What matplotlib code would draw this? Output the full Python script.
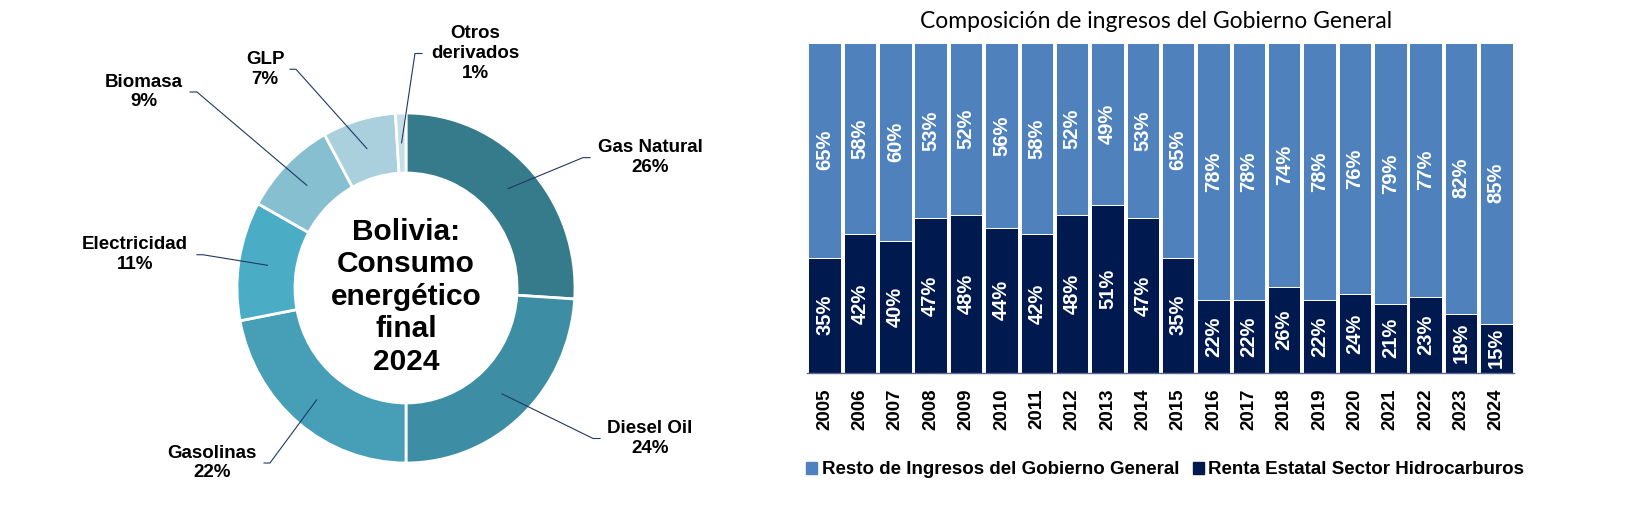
import numpy as np
import matplotlib
matplotlib.use('Agg')
import matplotlib.pyplot as plt
from matplotlib.patches import Patch

plt.rcParams['font.family'] = ['Liberation Sans', 'DejaVu Sans']

# --- donut: consumo energetico final 2024 ---
fuentes = ['Gas Natural', 'Diesel Oil', 'Gasolinas', 'Electricidad', 'Biomasa', 'GLP', 'Otros\nderivados']
participacion = [26, 24, 22, 11, 9, 7, 1]
colores_dona = ['#367B8C', '#3D8DA4', '#479EB7', '#4BACC6', '#86BFD0', '#A9D0DC', '#C6DFE7']

# --- barras: composicion de ingresos ---
anios = ['2005', '2006', '2007', '2008', '2009', '2010', '2011', '2012', '2013', '2014',
         '2015', '2016', '2017', '2018', '2019', '2020', '2021', '2022', '2023', '2024']
renta_hidrocarburos = [35, 42, 40, 47, 48, 44, 42, 48, 51, 47, 35, 22, 22, 26, 22, 24, 21, 23, 18, 15]
resto_ingresos = [65, 58, 60, 53, 52, 56, 58, 52, 49, 53, 65, 78, 78, 74, 78, 76, 79, 77, 82, 85]

# label layout (pie axes units): elbow x, end x, text x, y
pos_etiquetas = [(1.047, 1.089, 1.444, 0.745),
                 (1.107, 1.148, 1.444, -0.86),
                 (-0.805, -0.840, -1.148, -1.0),
                 (-1.201, -1.237, -1.604, 0.19),
                 (-1.237, -1.278, -1.550, 1.12),
                 (-0.651, -0.686, -0.834, 1.25),
                 (0.053, 0.095, 0.408, 1.34)]

W, H = 1632, 505
fig = plt.figure(figsize=(W / 100, H / 100), dpi=100)

# donut
ax = fig.add_axes([237 / W, 42 / H, 338 / W, 350 / H])
wedges, _ = ax.pie(participacion, colors=colores_dona, startangle=90, counterclock=False,
                   radius=1, wedgeprops=dict(width=0.343, edgecolor='white', linewidth=2))
ax.set_aspect('auto')
ax.set_xlim(-1, 1)
ax.set_ylim(-1, 1)

for w, nombre, val, (xe, xf, xt, yt) in zip(wedges, fuentes, participacion, pos_etiquetas):
    ang = np.deg2rad((w.theta1 + w.theta2) / 2)
    xa, ya = 0.83 * np.cos(ang), 0.83 * np.sin(ang)
    ax.plot([xa, xe, xf], [ya, yt, yt], color='#1F3864', lw=0.8, clip_on=False)
    ax.text(xt, yt, f'{nombre}\n{val}%', ha='center', va='center', fontsize=13.5,
            fontweight='bold', linespacing=1.2)

ax.text(0, -0.05, 'Bolivia:\nConsumo\nenergético\nfinal\n2024', ha='center', va='center',
        fontsize=21.5, fontweight='bold', linespacing=1.2)

# stacked bars
ax2 = fig.add_axes([807 / W, 132 / H, 707 / W, 330 / H])
x = np.arange(len(anios))
c_oscuro = '#001A4F'
c_claro = '#4F81BD'
ax2.bar(x, renta_hidrocarburos, width=0.92, color=c_oscuro, edgecolor='white', linewidth=0.7)
ax2.bar(x, resto_ingresos, bottom=renta_hidrocarburos, width=0.92, color=c_claro,
        edgecolor='white', linewidth=0.7)
ax2.set_xlim(-0.5, len(anios) - 0.5)
ax2.set_ylim(0, 100)

etiq = dict(rotation=90, ha='center', va='center', color='white', fontsize=14.5,
            fontweight='bold', family=['Liberation Sans', 'DejaVu Sans'])
for i in range(len(anios)):
    r = renta_hidrocarburos[i]
    s = resto_ingresos[i]
    ax2.text(i, r / 2, f'{r}%', **etiq)
    ax2.text(i, r + s / 2, f'{s}%', **etiq)

for sp in ['top', 'right', 'left']:
    ax2.spines[sp].set_visible(False)
ax2.spines['bottom'].set_color('#5A6B8C')
ax2.spines['bottom'].set_linewidth(1)
ax2.set_yticks([])
ax2.set_xticks(x, anios, rotation=90, fontsize=13.5, fontweight='bold')
ax2.tick_params(axis='x', length=0, pad=11)

fig.text(1156 / W, 1 - 22 / H, 'Composición de ingresos del Gobierno General', ha='center',
         va='center', fontsize=16.5, family=['Lato', 'DejaVu Sans'])

handles = [Patch(color=c_claro, label='Resto de Ingresos del Gobierno General'),
           Patch(color=c_oscuro, label='Renta Estatal Sector Hidrocarburos')]
fig.legend(handles=handles, loc='center left', bbox_to_anchor=(806 / W, 1 - 470 / H), ncol=2,
           frameon=False, handlelength=0.6, handleheight=0.6, handletextpad=0.25,
           columnspacing=0.7, borderpad=0, borderaxespad=0,
           prop=dict(weight='bold', size=13.5))

fig.savefig('out.png', dpi=100)
